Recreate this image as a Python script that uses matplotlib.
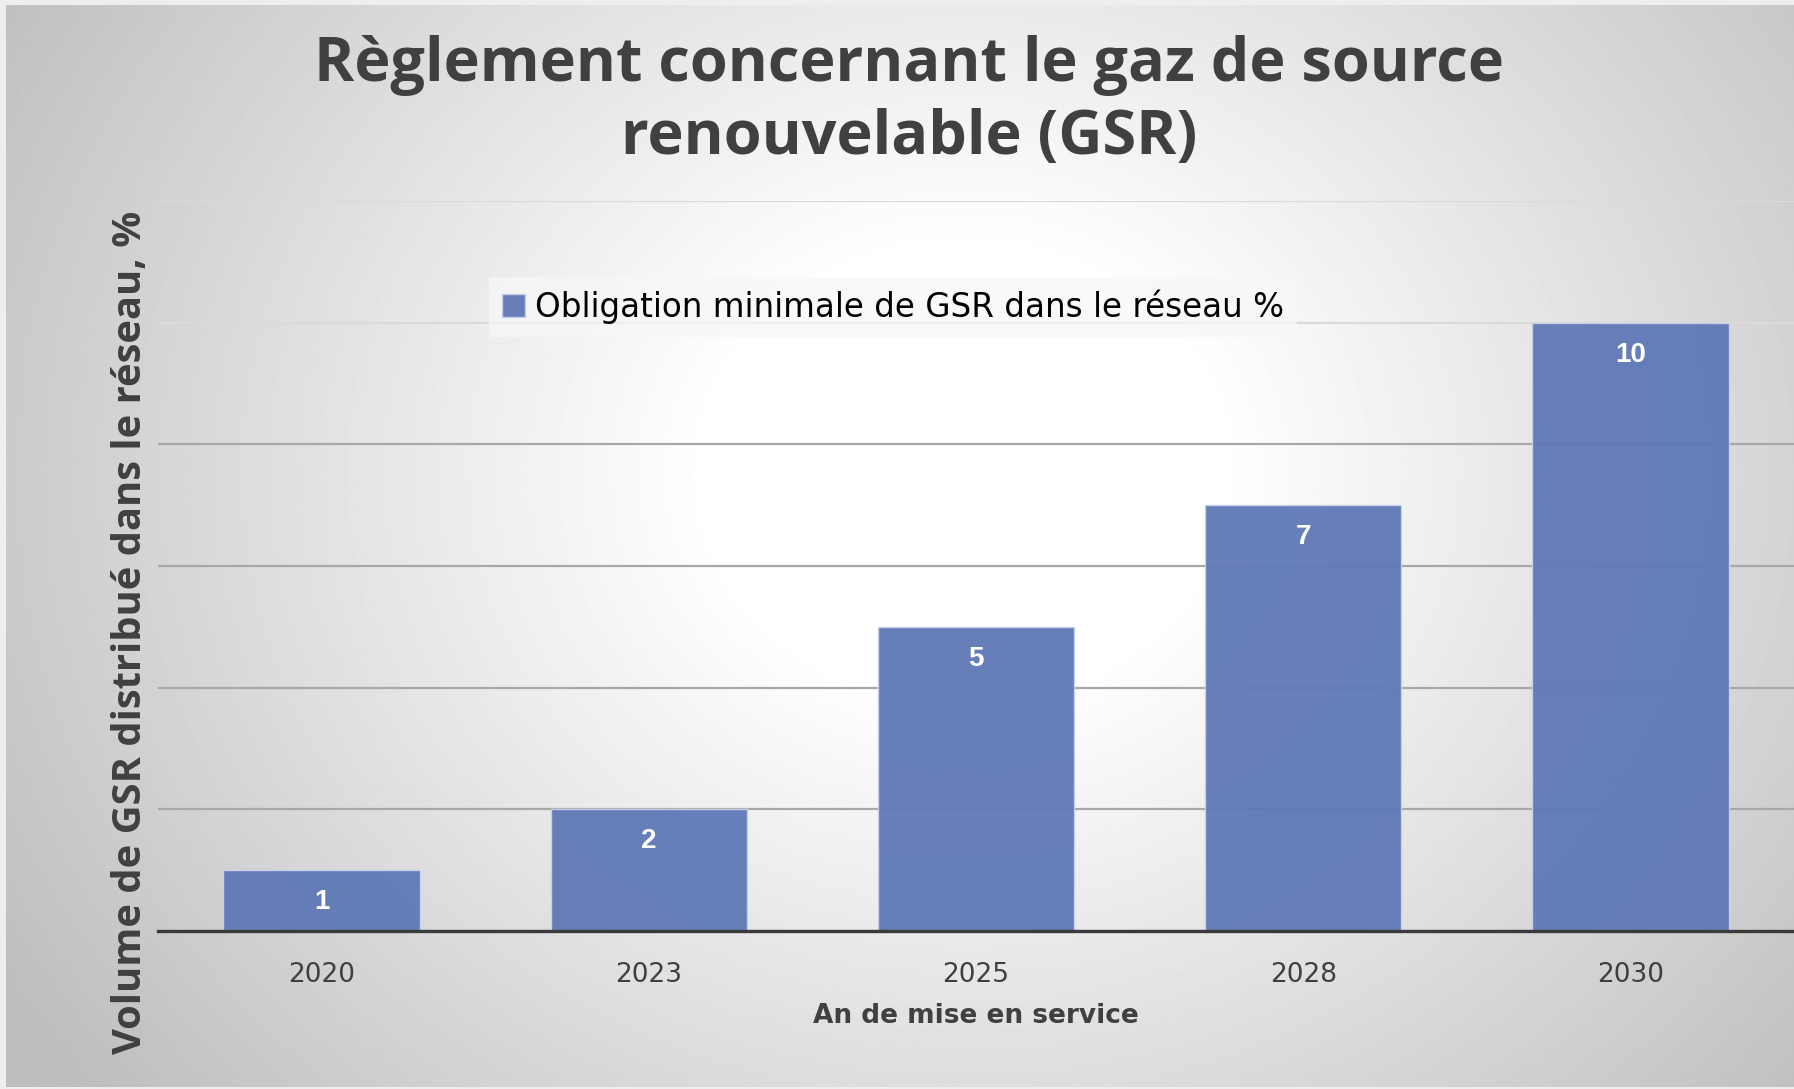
import numpy as np
import matplotlib
matplotlib.use("Agg")
import matplotlib.pyplot as plt

# Chart data
YEARS = ["2020", "2023", "2025", "2028", "2030"]
SHARE = [1, 2, 5, 7, 10]
SERIES_NAME = "Obligation minimale de GSR dans le réseau %"

TITLE = "Règlement concernant le gaz de source\nrenouvelable (GSR)"
Y_LABEL = "Volume de GSR distribué dans le réseau, %"
X_LABEL = "An de mise en service"

BAR_COLOR = "#5f78b6"
TEXT_GREY = "#404040"
W, H = 1794, 1089


def main():
    fig = plt.figure(figsize=(W / 100, H / 100), dpi=100, facecolor="#eeeeee")

    # radial grey-to-white background of the chart frame
    bg = fig.add_axes([6 / W, 2 / H, 1 - 6 / W, 1 - 7 / H], zorder=0)
    yy, xx = np.mgrid[0:H, 0:W]
    r = np.hypot((xx - 960) * 1.0, (yy - 470) * 1.15)
    shade = np.clip(255 - 0.075 * np.clip(r - 260, 0, None), 190, 255) / 255
    bg.imshow(shade, cmap="gray", vmin=0, vmax=1, aspect="auto", interpolation="bilinear")
    bg.set_axis_off()

    ax = fig.add_axes([158 / W, 1 - 931 / H, 1 - 158 / W, (931 - 201) / H], zorder=1)
    ax.patch.set_alpha(0)

    x = np.arange(len(YEARS))
    bars = ax.bar(x, SHARE, width=0.6, color=BAR_COLOR, alpha=0.95,
                  edgecolor="#c9d2ea", linewidth=1, label=SERIES_NAME, zorder=3)

    for xi, v in zip(x, SHARE):
        ax.annotate(str(v), (xi, v), xytext=(0, -23), textcoords="offset points",
                    ha="center", va="center", color="white", fontsize=20,
                    fontweight="bold", family="Liberation Sans", zorder=4)

    ax.set_xlim(-0.5, len(YEARS) - 0.5)
    ax.set_ylim(0, 12)
    ax.set_yticks(np.arange(0, 13, 2))
    ax.yaxis.set_tick_params(length=0, labelleft=False)
    ax.grid(axis="y", color="#a8a8a8", linewidth=1.6, zorder=1)
    for val, gl in zip(np.arange(0, 13, 2), ax.get_ygridlines()):
        if val >= 10:
            gl.set_color("#dadada")

    ax.set_xticks(x)
    ax.set_xticklabels(YEARS, fontsize=19, color=TEXT_GREY, family="DejaVu Sans")
    ax.xaxis.set_tick_params(length=0, pad=22)

    for side in ["top", "right", "left"]:
        ax.spines[side].set_visible(False)
    ax.spines["bottom"].set_color("#3a3a3a")
    ax.spines["bottom"].set_linewidth(2.4)
    ax.spines["bottom"].set_zorder(5)

    fig.text(976 / W, 1 - 1016 / H, X_LABEL, ha="center", va="center",
             fontsize=19, fontweight="bold", color=TEXT_GREY, family="DejaVu Sans")
    fig.text(130 / W, 1 - 632 / H, Y_LABEL, rotation=90, ha="center", va="center",
             fontsize=28.7, fontweight="bold", color=TEXT_GREY, family="Open Sans")
    fig.text(909 / W, 1 - 102 / H, TITLE, ha="center", va="center", linespacing=1.28,
             fontsize=44, fontweight="bold", color=TEXT_GREY, family="Open Sans")

    leg = fig.legend(handles=[bars], loc="center", bbox_to_anchor=(893 / W, 1 - 307 / H),
                     frameon=True, prop={"family": "DejaVu Sans", "size": 23.5},
                     handlelength=0.7, handleheight=0.7, handletextpad=0.3,
                     borderpad=0.4, fancybox=False)
    leg.get_frame().set_facecolor("#f7f7f7")
    leg.get_frame().set_alpha(0.7)
    leg.get_frame().set_linewidth(0)

    fig.savefig("out.png", dpi=100, facecolor=fig.get_facecolor())
    plt.close(fig)


if __name__ == "__main__":
    main()
